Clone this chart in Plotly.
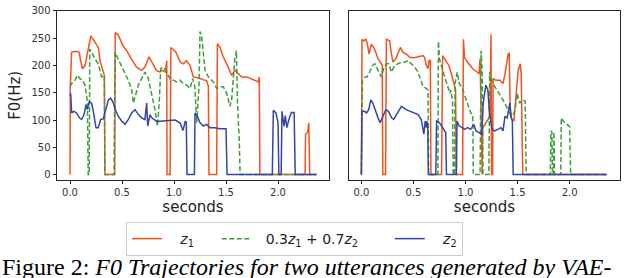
import plotly.graph_objects as go

# ---------------- data (seconds, F0 in Hz) ----------------
# Left utterance
L_t_z1 = [0.000, 0.003, 0.015, 0.05, 0.09, 0.10, 0.12, 0.145, 0.16, 0.20, 0.215, 0.24, 0.272, 0.288, 0.32, 0.33, 0.335,
          0.43, 0.435, 0.46, 0.51, 0.545, 0.59, 0.64, 0.69, 0.72, 0.76, 0.80, 0.83, 0.865, 0.89, 0.915, 0.925, 0.93, 0.933,
          0.962, 0.97, 1.02, 1.06, 1.09, 1.12, 1.154, 1.186, 1.218, 1.28, 1.314, 1.33, 1.336,
          1.41, 1.417, 1.442, 1.474, 1.506, 1.554, 1.586, 1.60, 1.65, 1.70, 1.763, 1.81, 1.82, 1.825,
          2.26, 2.265, 2.285, 2.295, 2.305, 2.37]
L_f_z1 = [0, 160, 224, 226, 224, 210, 194, 200, 215, 254, 250, 242, 233, 209, 191, 182, 0,
          0, 260, 257, 236, 227, 212, 197, 191, 197, 216, 200, 191, 188, 191, 188, 200, 209, 0,
          0, 233, 224, 206, 203, 209, 200, 179, 178, 174, 172, 162, 0,
          0, 240, 233, 215, 203, 182, 191, 188, 179, 179, 174, 170, 179, 0,
          0, 74, 78, 95, 0, 0]

L_t_mix = [0.0, 0.016, 0.048, 0.07, 0.096, 0.122, 0.144, 0.167, 0.175, 0.185, 0.19, 0.20, 0.24, 0.272, 0.304, 0.33, 0.336,
           0.423, 0.433, 0.465, 0.497, 0.53, 0.56, 0.593, 0.609, 0.625, 0.657, 0.689, 0.72, 0.753, 0.785, 0.817, 0.84,
           0.858, 0.872, 0.897, 0.93, 0.96, 0.994, 1.026, 1.058, 1.09, 1.122, 1.154, 1.18, 1.20, 1.218, 1.24, 1.25, 1.266,
           1.298, 1.33, 1.378, 1.41, 1.442, 1.474, 1.506, 1.538, 1.554, 1.586, 1.60, 1.61, 1.628, 1.635, 2.37]
L_f_mix = [161, 167, 173, 182, 176, 173, 164, 134, 0, 0, 230, 227, 212, 203, 179, 182, 0,
           0, 224, 212, 197, 185, 173, 155, 131, 143, 164, 176, 188, 176, 149, 119, 89,
           131, 194, 197, 188, 176, 173, 170, 173, 167, 164, 158, 176, 161, 95, 161, 262, 254,
           191, 179, 170, 158, 161, 161, 149, 125, 137, 215, 227, 131, 59, 0, 0]

L_t_z2 = [0.0, 0.006, 0.016, 0.038, 0.064, 0.09, 0.112, 0.135, 0.154, 0.167, 0.186, 0.208, 0.224, 0.25, 0.272, 0.295,
          0.32, 0.346, 0.369, 0.391, 0.417, 0.442, 0.465, 0.497, 0.529, 0.561, 0.593, 0.625, 0.657, 0.689, 0.72, 0.737,
          0.747, 0.769, 0.785, 0.808, 0.833, 0.865, 0.93, 1.01, 1.058, 1.087, 1.108, 1.118, 1.125,
          1.196, 1.202, 1.224, 1.25, 1.282, 1.314, 1.346, 1.394, 1.442, 1.50, 1.51,
          1.945, 1.955, 1.98, 2.0, 2.008, 2.03, 2.038, 2.058, 2.07, 2.085, 2.105, 2.128, 2.155, 2.165, 2.37]
L_f_z2 = [144, 149, 113, 116, 113, 104, 101, 110, 128, 119, 134, 131, 116, 86, 86, 101,
          102, 119, 137, 140, 131, 116, 107, 98, 92, 101, 113, 119, 110, 104, 101, 131,
          89, 110, 104, 101, 98, 98, 99, 100, 95, 81, 98, 96, 0,
          0, 113, 107, 95, 89, 92, 86, 86, 84, 84, 0,
          0, 118, 113, 95, 0, 0, 116, 89, 108, 86, 101, 114, 114, 0, 0]

# Right utterance
R_t_z1 = [0.0, 0.006, 0.022, 0.042, 0.054, 0.074, 0.096, 0.118, 0.138, 0.16, 0.182, 0.20, 0.206,
          0.232, 0.24, 0.272, 0.288, 0.304, 0.33, 0.352, 0.374, 0.40, 0.432, 0.464, 0.496, 0.528, 0.56, 0.592,
          0.608, 0.624, 0.64, 0.65, 0.662, 0.668,
          0.77, 0.78, 0.81, 0.84, 0.86, 0.885, 0.905, 0.91,
          0.972, 0.98, 0.99, 1.02, 1.07, 1.11, 1.13, 1.14, 1.155, 1.16, 1.165, 1.20, 1.235, 1.245, 1.25,
          1.26, 1.265, 1.29, 1.33, 1.36, 1.38, 1.41, 1.42, 1.43, 1.44, 1.465, 1.48, 1.505, 1.525, 1.535, 1.55, 2.356]
R_f_z1 = [0, 248, 245, 248, 242, 221, 239, 233, 224, 212, 206, 200, 0,
          0, 248, 245, 221, 206, 212, 224, 233, 224, 221, 215, 214, 215, 216, 218,
          214, 200, 194, 209, 209, 0,
          0, 218, 209, 200, 188, 170, 155, 0,
          0, 248, 215, 206, 194, 188, 185, 212, 0, 0, 85, 95, 107, 257, 0,
          0, 176, 173, 173, 167, 185, 221, 222, 110, 104, 98, 130, 190, 203, 185, 0, 0]

R_t_mix = [0.0, 0.01, 0.032, 0.054, 0.08, 0.106, 0.128, 0.144, 0.17, 0.192, 0.214, 0.24, 0.262, 0.288, 0.32,
           0.352, 0.384, 0.416, 0.448, 0.48, 0.512, 0.544, 0.566, 0.592, 0.624, 0.64, 0.646,
           0.735, 0.74, 0.75, 0.78, 0.805, 0.82, 0.836, 0.85, 0.86, 0.875, 0.882,
           0.895, 0.90, 0.92, 0.94, 0.962, 0.986, 1.018, 1.05, 1.07, 1.075,
           1.14, 1.15, 1.16, 1.168, 1.225, 1.232, 1.263, 1.294, 1.327, 1.359, 1.39, 1.423, 1.455, 1.477, 1.496,
           1.519, 1.551, 1.573, 1.583, 1.815, 1.82, 1.83, 1.835, 1.845, 1.85, 1.855,
           1.915, 1.92, 1.94, 1.97, 2.0, 2.01, 2.356]
R_f_mix = [0, 173, 179, 179, 188, 200, 203, 197, 185, 179, 194, 203, 203, 188, 200,
           203, 206, 206, 209, 203, 197, 188, 176, 161, 158, 155, 0,
           0, 244, 212, 191, 176, 167, 155, 149, 155, 134, 0,
           0, 167, 188, 167, 161, 149, 131, 113, 110, 0,
           0, 227, 191, 0, 0, 188, 167, 158, 146, 137, 126, 113, 108, 120, 149,
           131, 137, 135, 0, 0, 80, 78, 0, 0, 78, 0,
           0, 104, 98, 92, 88, 0, 0]

R_t_z2 = [0.0, 0.005, 0.03, 0.05, 0.07, 0.09, 0.11, 0.13, 0.16, 0.18, 0.21, 0.235, 0.26, 0.29, 0.31, 0.35, 0.385,
          0.43, 0.465, 0.51, 0.545, 0.575, 0.60, 0.613, 0.625, 0.63, 0.638, 0.643,
          0.715, 0.722, 0.75, 0.78, 0.81, 0.817,
          0.913, 0.918, 0.94, 0.97, 0.99, 1.02, 1.05, 1.08, 1.10, 1.13, 1.155, 1.17, 1.195, 1.215, 1.23, 1.255,
          1.28, 1.31, 1.34, 1.36, 1.38, 1.40, 1.41, 1.426, 1.44, 1.45, 1.458, 2.356]
R_f_z2 = [0, 116, 116, 113, 119, 137, 131, 119, 104, 95, 110, 119, 116, 104, 101, 113, 125,
          119, 116, 113, 110, 101, 74, 98, 86, 98, 83, 0,
          0, 98, 95, 86, 77, 0,
          0, 98, 89, 86, 83, 86, 83, 92, 80, 77, 74, 131, 164, 155, 113, 83,
          80, 83, 86, 80, 107, 104, 113, 131, 104, 98, 0, 0]

series_names = ["<i>z</i><sub>1</sub>",
                "0.3<i>z</i><sub>1</sub> + 0.7<i>z</i><sub>2</sub>",
                "<i>z</i><sub>2</sub>"]
y_ticks = [0, 50, 100, 150, 200, 250, 300]
x_ticks = [0.0, 0.5, 1.0, 1.5, 2.0]
x_tick_text = ["0.0", "0.5", "1.0", "1.5", "2.0"]
x_title = "seconds"
y_title = "F0(Hz)"
caption = "Figure 2: <i>F0 Trajectories for two utterances generated by VAE-</i>"

# ---------------- styling ----------------
RED = "#F4511E"
GREEN = "#3A9E3A"
BLUE = "#3444A8"
NB = "\u00a0"
names = [NB * 3 + series_names[0] + NB * 4,
         NB * 2 + series_names[1] + NB * 6,
         NB * 3 + series_names[2]]

fig = go.Figure()
styles = [
    dict(color=RED, width=1.5),
    dict(color=GREEN, width=1.5, dash="5px,2.5px"),
    dict(color=BLUE, width=1.5),
]
left = [(L_t_z1, L_f_z1), (L_t_mix, L_f_mix), (L_t_z2, L_f_z2)]
right = [(R_t_z1, R_f_z1), (R_t_mix, R_f_mix), (R_t_z2, R_f_z2)]

for i, (t, f) in enumerate(left):
    fig.add_trace(go.Scatter(x=t, y=f, mode="lines", line=styles[i], name=names[i],
                             legendgroup=str(i), showlegend=True, xaxis="x", yaxis="y"))
for i, (t, f) in enumerate(right):
    fig.add_trace(go.Scatter(x=t, y=f, mode="lines", line=styles[i], name=names[i],
                             legendgroup=str(i), showlegend=False, xaxis="x2", yaxis="y2"))

W, H = 630, 278
font = "DejaVu Sans"
tick_font = dict(family=font, size=10, color="#333333")
axis_common = dict(showline=True, linecolor="#262626", linewidth=1, mirror=True,
                   showgrid=False, zeroline=False, ticks="outside", ticklen=3.5,
                   tickcolor="#262626", tickwidth=1, tickfont=tick_font)

fig.update_layout(
    width=W, height=H,
    margin=dict(l=0, r=0, t=0, b=0),
    paper_bgcolor="white", plot_bgcolor="white",
    showlegend=True,
    xaxis=dict(domain=[57 / W, 329 / W], range=[-0.125, 2.49], tickvals=x_ticks, ticktext=x_tick_text,
               title=dict(text=x_title, font=dict(family=font, size=15, color="#222222"), standoff=4),
               anchor="y", **axis_common),
    yaxis=dict(domain=[1 - 178 / H, 1 - 6 / H], range=[-9.5, 300], tickvals=y_ticks,
               title=dict(text=y_title, font=dict(family=font, size=15, color="#222222"), standoff=7),
               anchor="x", **axis_common),
    xaxis2=dict(domain=[349 / W, 620 / W], range=[-0.119, 2.484], tickvals=x_ticks, ticktext=x_tick_text,
                title=dict(text=x_title, font=dict(family=font, size=15, color="#222222"), standoff=4),
                anchor="y2", **axis_common),
    yaxis2=dict(domain=[1 - 178 / H, 1 - 6 / H], range=[-9.5, 300], tickvals=y_ticks,
                showticklabels=False, anchor="x2",
                **{k: v for k, v in axis_common.items() if k not in ("ticks",)}, ticks=""),
    legend=dict(orientation="h", x=126 / W, y=1 - 221 / H, xanchor="left", yanchor="top",
                bordercolor="#cccccc", borderwidth=1, bgcolor="white",
                font=dict(family=font, size=14, color="#222222"), traceorder="normal"),
    annotations=[dict(text=caption, xref="paper", yref="paper", x=0.0, y=1 - 266.5 / H,
                      xanchor="left", yanchor="middle", showarrow=False, align="left",
                      font=dict(family="Liberation Serif", size=24, color="black"))],
)

fig.write_html("out.html", config={"displayModeBar": False, "staticPlot": True},
               post_script="document.body.style.margin='0';document.body.style.overflow='hidden';")
